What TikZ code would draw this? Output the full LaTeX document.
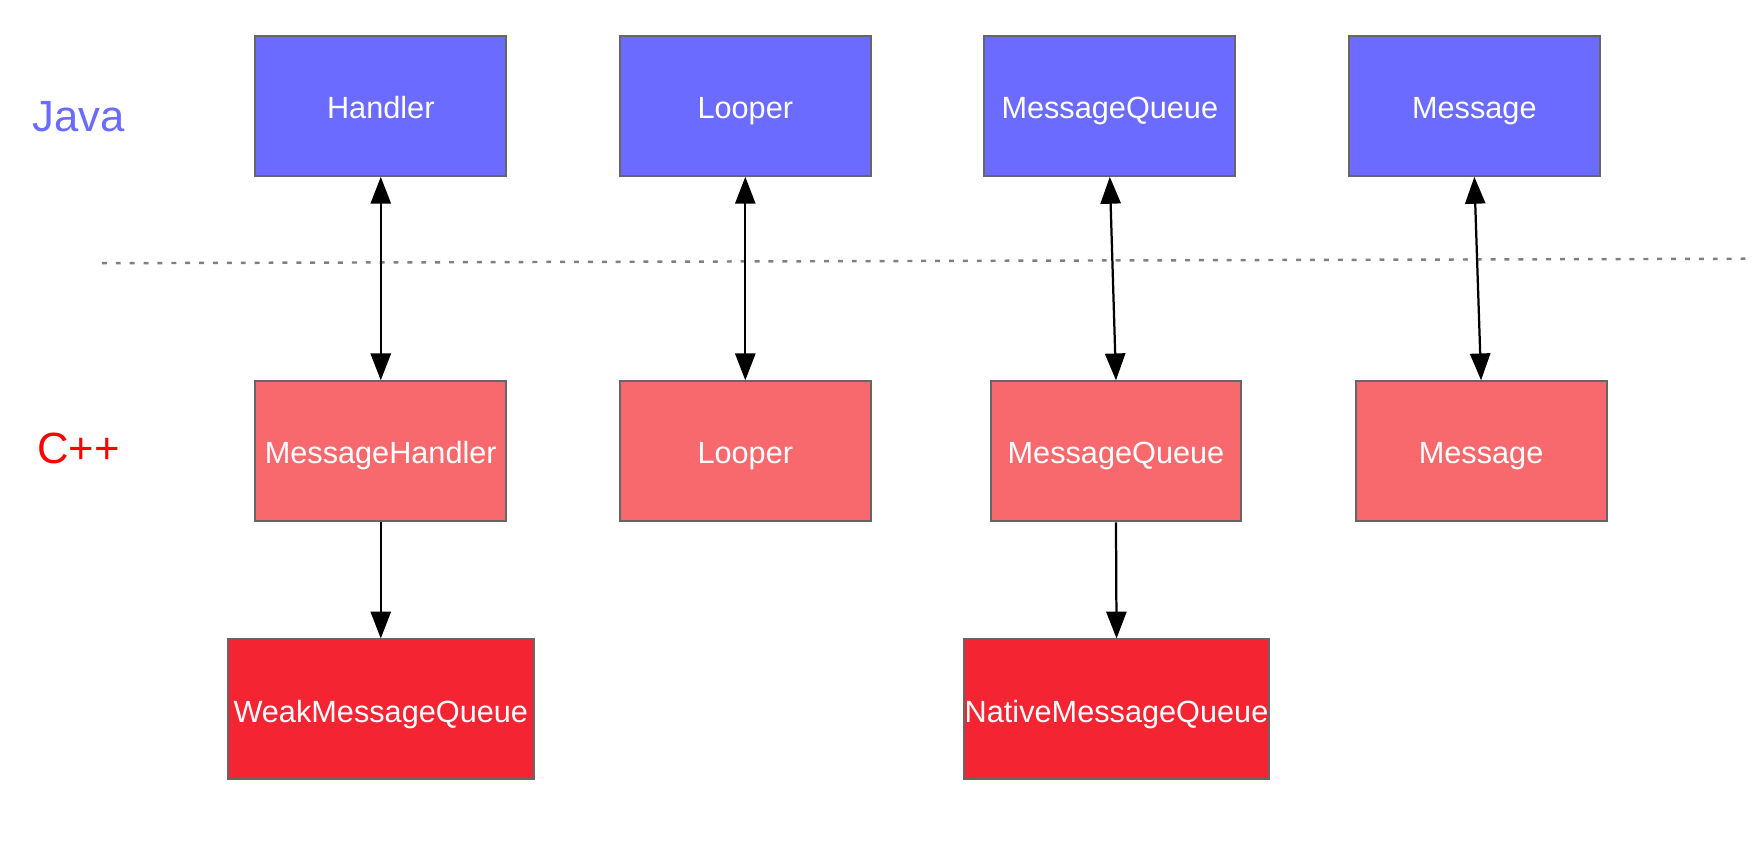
\documentclass[tikz,border=0pt]{standalone}
\usepackage{fontspec}
\setmainfont{Liberation Sans}
\usetikzlibrary{arrows.meta,positioning}

\definecolor{javablue}{HTML}{6B6BFF}
\definecolor{cpppink}{HTML}{F8696E}
\definecolor{cppred}{HTML}{F52433}
\definecolor{boxline}{HTML}{666666}

\tikzset{
    box/.style={draw=boxline, line width=0.9pt, text=white, inner sep=0pt,
        font=\fontsize{13.7}{16}\selectfont, text height=1.15em, text depth=0.03em,
        minimum width=112pt, minimum height=62.5pt},
    javabox/.style={box, fill=javablue},
    cppbox/.style={box, fill=cpppink},
    nativebox/.style={box, fill=cppred, minimum width=136.5pt},
    layer/.style={font=\fontsize{19.5}{23}\selectfont},
    link/.style={line width=1pt, -{Triangle[length=12pt,width=9pt]}},
    bilink/.style={line width=1pt, {Triangle[length=12pt,width=9pt]}-{Triangle[length=12pt,width=9pt]}},
}

\begin{document}
\begin{tikzpicture}[x=0.5pt,y=-0.5pt]
    \useasboundingbox (0,0) rectangle (1568,768);

    % layer labels
    \node[layer, text=javablue] (java) at (70,104) {Java};
    \node[layer, text=red]      (cpp)  at (70,400) {C++};

    % boundary between the layers
    \coordinate (sepL) at (91,235);
    \coordinate (sepR) at (1562,231);
    \draw[draw=gray, line width=1.1pt, dash pattern=on 2.2pt off 4pt] (sepL) -- (sepR);

    % java side
    \node[javabox] (jhandler) at (340,94.5)   {Handler};
    \node[javabox] (jlooper)  at (665.5,94.5) {Looper};
    \node[javabox] (jqueue)   at (991,94.5)   {MessageQueue};
    \node[javabox] (jmsg)     at (1316.5,94.5) {Message};

    % native side
    \node[cppbox] (chandler) at (340,403)    {MessageHandler};
    \node[cppbox] (clooper)  at (665.5,403)  {Looper};
    \node[cppbox] (cqueue)   at (996.5,403)  {MessageQueue};
    \node[cppbox] (cmsg)     at (1322.5,403) {Message};

    \node[nativebox] (weakq)   at (340,633.5) {WeakMessageQueue};
    \node[nativebox] (nativeq) at (997,633.5) {NativeMessageQueue};

    \draw[bilink] (jhandler.south) -- (chandler.north);
    \draw[bilink] (jlooper.south) -- (clooper.north);
    \draw[bilink] (jqueue.south) -- (cqueue.north);
    \draw[bilink] (jmsg.south) -- (cmsg.north);

    \draw[link] (chandler.south) -- (weakq.north);
    \draw[link] (cqueue.south) -- (nativeq.north);
\end{tikzpicture}
\end{document}
